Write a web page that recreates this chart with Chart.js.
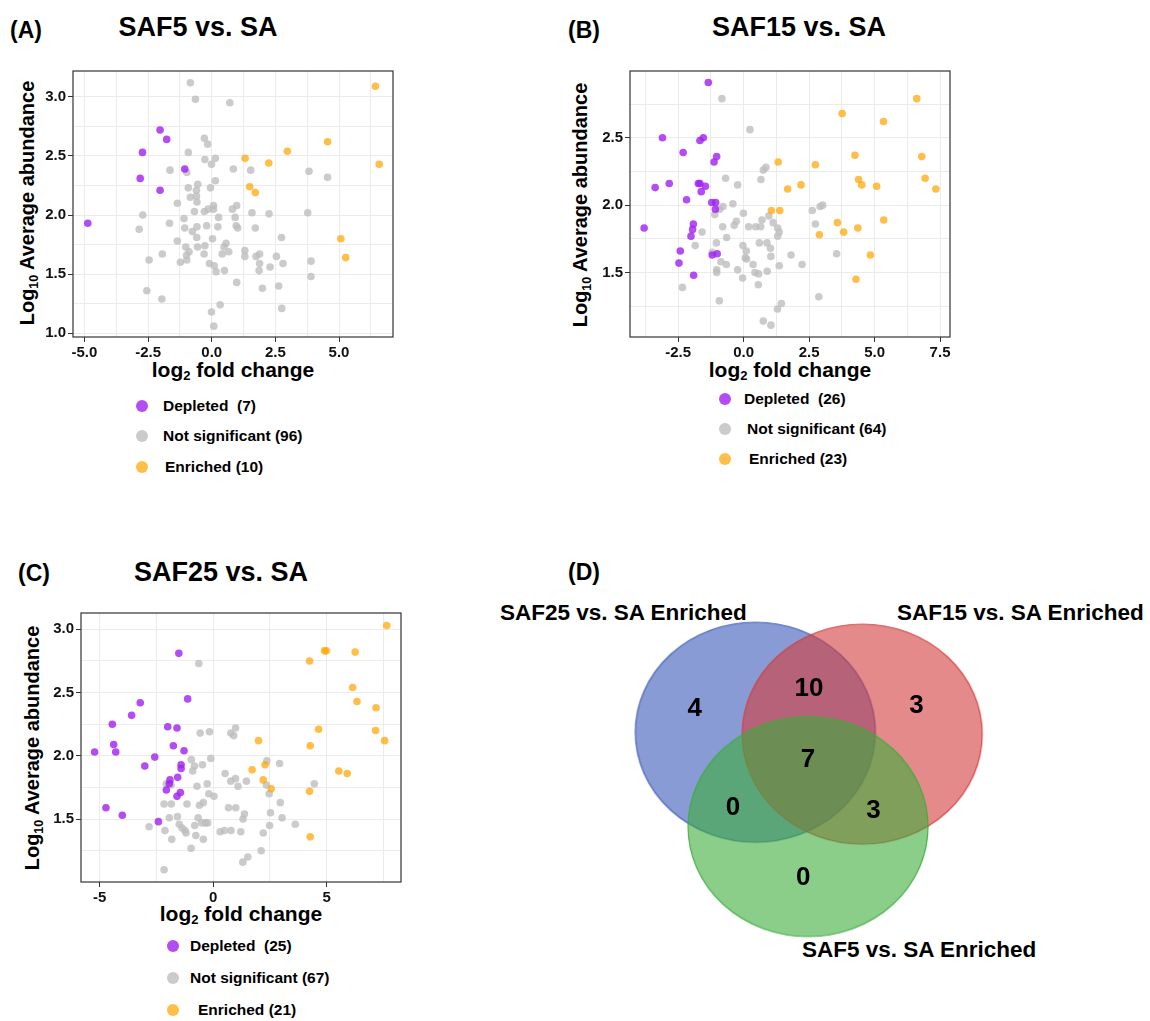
<!DOCTYPE html>
<html>
<head>
<meta charset="utf-8">
<script src="https://cdn.jsdelivr.net/npm/chart.js@4"></script>
<style>
  body { margin: 0; background: #fff; width: 1150px; height: 1021px; position: relative; overflow: hidden;
         font-family: 'Liberation Sans', Arial, sans-serif; color: #000; }
  canvas { position: absolute; }
  .t { position: absolute; font-weight: bold; white-space: nowrap; line-height: 1; }
  .l { transform: translateY(-50%); }
  .c { transform: translate(-50%, -50%); }
  .v { transform: translate(-50%, -50%) rotate(-90deg); }
  sub { font-size: 0.62em; vertical-align: -0.3em; line-height: 0; }
  .dot { position: absolute; width: 12px; height: 12px; border-radius: 50%; transform: translate(-50%, -50%); }
</style>
</head>
<body>

<!-- panel letters and titles -->
<div class="t l" style="left:10px;top:30px;font-size:23px">(A)</div>
<div class="t c" style="left:198px;top:27px;font-size:27px">SAF5 vs. SA</div>
<div class="t l" style="left:568px;top:30px;font-size:23px">(B)</div>
<div class="t c" style="left:799px;top:27px;font-size:27px">SAF15 vs. SA</div>
<div class="t l" style="left:18px;top:573px;font-size:23px">(C)</div>
<div class="t c" style="left:221px;top:572px;font-size:27px">SAF25 vs. SA</div>
<div class="t l" style="left:568px;top:572px;font-size:23px">(D)</div>

<!-- axis titles -->
<div class="t v" style="left:27px;top:203px;font-size:20px">Log<sub>10</sub> Average abundance</div>
<div class="t c" style="left:233px;top:369px;font-size:21px">log<sub>2</sub> fold change</div>
<div class="t v" style="left:580px;top:205px;font-size:20px">Log<sub>10</sub> Average abundance</div>
<div class="t c" style="left:790px;top:369px;font-size:21px">log<sub>2</sub> fold change</div>
<div class="t v" style="left:32px;top:748px;font-size:20px">Log<sub>10</sub> Average abundance</div>
<div class="t c" style="left:241px;top:913px;font-size:21px">log<sub>2</sub> fold change</div>

<!-- legends -->
<div id="legends"></div>

<!-- venn set names -->
<div class="t l" style="left:500px;top:613px;font-size:22.5px">SAF25 vs. SA Enriched</div>
<div class="t l" style="left:897px;top:613px;font-size:22.5px">SAF15 vs. SA Enriched</div>
<div class="t l" style="left:802px;top:950px;font-size:22.5px">SAF5 vs. SA Enriched</div>

<canvas id="volA" width="390" height="300" style="left:30px;top:60px"></canvas>
<canvas id="volB" width="380" height="300" style="left:590px;top:60px"></canvas>
<canvas id="volC" width="390" height="310" style="left:40px;top:600px"></canvas>
<canvas id="venn" width="420" height="370" style="left:600px;top:590px"></canvas>

<script>
// ---- data: [log2 fold change, log10 average abundance] ----
const aDepleted = [[-2.03,2.72],[-1.77,2.64],[-2.72,2.53],[-2.81,2.31],[-2.03,2.21],[-1.06,2.39],[-4.87,1.93]];
const aEnriched = [[6.43,3.09],[4.55,2.62],[6.58,2.43],[1.31,2.48],[2.24,2.44],[2.97,2.54],[1.49,2.24],[1.71,2.19],[5.07,1.80],[5.26,1.64]];
const aNotSig = [[-0.84,3.12],[-0.64,2.98],[0.71,2.95],[-0.29,2.65],[-0.16,2.60],[-0.92,2.53],[-0.27,2.47],[0.14,2.48],
  [-0.01,2.43],[-1.64,2.38],[-0.98,2.36],[0.85,2.39],[1.53,2.38],[3.82,2.37],[4.55,2.32],[-0.55,2.26],[-0.92,2.23],
  [-0.60,2.21],[0.14,2.29],[-0.05,2.23],[-0.84,2.15],[-0.60,2.16],[-0.58,2.11],[-1.35,2.10],[-0.68,2.03],[-0.29,2.03],
  [-0.14,2.05],[0.07,2.08],[0.07,2.05],[0.81,2.05],[0.98,2.08],[0.27,1.98],[0.92,1.98],[1.58,2.02],[2.25,2.01],[3.77,2.02],
  [-2.71,2.00],[-2.85,1.88],[-1.66,1.93],[-1.09,1.97],[-1.06,1.89],[-0.58,1.90],[-0.76,1.86],[-0.59,1.81],[-0.20,1.91],
  [0.24,1.90],[0.96,1.91],[1.02,1.89],[1.71,1.89],[2.74,1.81],[0.03,1.80],[-1.35,1.78],[-1.02,1.73],[-0.56,1.73],
  [-0.27,1.74],[0.56,1.76],[0.48,1.73],[0.67,1.69],[0.41,1.67],[1.30,1.70],[1.30,1.65],[-0.89,1.69],[-0.99,1.66],
  [-0.98,1.62],[-0.30,1.67],[-1.94,1.67],[-2.46,1.62],[-1.23,1.60],[1.74,1.65],[1.88,1.67],[2.54,1.65],[3.90,1.61],
  [1.88,1.59],[2.80,1.59],[2.29,1.56],[1.86,1.53],[-0.09,1.59],[0.10,1.57],[0.17,1.52],[0.50,1.53],[0.98,1.43],
  [3.90,1.48],[2.63,1.40],[1.99,1.38],[-2.55,1.36],[-1.96,1.29],[0.33,1.24],[-0.01,1.18],[2.75,1.21],[0.08,1.06]];

const bDepleted = [[-1.35,2.91],[-3.10,2.50],[-1.54,2.50],[-1.67,2.48],[-2.31,2.39],[-1.03,2.36],[-1.13,2.32],
  [-3.38,2.13],[-2.84,2.16],[-1.73,2.16],[-1.67,2.16],[-1.46,2.14],[-1.62,2.10],[-2.18,2.04],[-1.22,2.02],[-1.07,2.02],
  [-1.08,1.97],[-3.80,1.83],[-1.92,1.86],[-1.95,1.82],[-2.01,1.77],[-2.42,1.66],[-2.47,1.57],[-1.20,1.63],[-1.01,1.64],[-1.91,1.48]];
const bEnriched = [[6.61,2.79],[3.76,2.68],[5.34,2.62],[4.25,2.37],[6.80,2.36],[6.93,2.20],[7.34,2.12],[1.32,2.32],
  [2.74,2.30],[1.68,2.12],[2.19,2.15],[4.39,2.19],[4.51,2.15],[5.08,2.14],[1.06,1.96],[1.38,1.96],[3.58,1.87],
  [3.82,1.80],[2.89,1.78],[4.36,1.83],[5.35,1.89],[4.84,1.63],[4.29,1.45]];
const bNotSig = [[-0.83,2.79],[0.24,2.56],[0.75,2.26],[0.85,2.28],[0.66,2.19],[-0.69,2.20],[-0.23,2.15],[-0.41,2.01],
  [-0.79,1.99],[-0.92,1.97],[-0.01,1.94],[-0.28,1.88],[-0.36,1.85],[-0.80,1.84],[-0.65,1.76],[-1.10,1.93],[-1.59,1.80],
  [-1.85,1.70],[-1.04,1.72],[0.19,1.84],[0.46,1.84],[0.65,1.84],[0.70,1.89],[0.96,1.92],[1.13,1.87],[1.30,1.83],
  [1.36,1.80],[1.30,1.77],[2.62,1.96],[2.92,1.99],[3.02,2.00],[2.74,1.86],[-0.03,1.70],[0.10,1.66],[0.06,1.61],
  [0.11,1.60],[0.60,1.72],[0.89,1.72],[1.02,1.68],[1.04,1.62],[-0.87,1.58],[-0.66,1.56],[-1.03,1.52],[-1.03,1.50],
  [-0.23,1.52],[-0.04,1.46],[0.36,1.56],[0.43,1.50],[0.57,1.49],[0.90,1.51],[1.36,1.55],[1.81,1.63],[2.23,1.56],
  [3.55,1.64],[0.56,1.41],[-2.34,1.39],[2.87,1.32],[-0.93,1.29],[1.29,1.23],[1.44,1.27],[0.75,1.14],[1.04,1.11],
  [-1.20,1.65]];

const cDepleted = [[-1.51,2.81],[-1.12,2.45],[-3.21,2.42],[-3.59,2.32],[-4.44,2.25],[-4.38,2.09],[-4.29,2.03],
  [-5.22,2.03],[-2.00,2.23],[-1.59,2.22],[-1.75,2.08],[-1.28,2.04],[-2.57,1.99],[-3.01,1.92],[-1.41,1.93],[-1.41,1.90],
  [-1.56,1.83],[-1.90,1.81],[-1.93,1.78],[-2.06,1.73],[-1.44,1.71],[-1.59,1.68],[-4.72,1.59],[-4.00,1.53],[-2.41,1.48]];
const cEnriched = [[7.65,3.03],[4.91,2.83],[4.99,2.83],[6.26,2.82],[4.25,2.75],[6.15,2.54],[6.34,2.43],[7.18,2.38],
  [4.65,2.21],[7.16,2.20],[7.56,2.12],[4.28,2.08],[2.00,2.12],[2.29,1.93],[1.72,1.89],[2.21,1.81],[2.56,1.74],
  [5.54,1.88],[5.91,1.86],[4.25,1.72],[4.28,1.36]];
const cNotSig = [[-0.63,2.73],[-0.57,2.18],[-0.16,2.19],[0.78,2.18],[0.99,2.22],[0.91,2.16],[-0.96,1.97],[-0.82,1.92],
  [-0.90,1.88],[-0.47,1.93],[-0.10,1.98],[0.53,1.86],[0.78,1.80],[0.99,1.82],[1.10,1.76],[1.47,1.80],[2.37,1.96],
  [2.93,1.94],[2.35,1.77],[2.47,1.70],[4.46,1.78],[-2.06,1.78],[-1.85,1.77],[-0.71,1.76],[-0.26,1.78],[-0.19,1.70],
  [0.04,1.68],[-2.16,1.62],[-1.84,1.62],[-1.15,1.62],[-0.60,1.61],[-0.43,1.63],[0.68,1.59],[1.00,1.59],[1.38,1.54],
  [2.96,1.63],[-1.93,1.51],[-1.57,1.52],[-0.66,1.51],[1.32,1.50],[2.53,1.55],[3.04,1.51],[3.62,1.46],[-2.82,1.44],
  [-2.12,1.41],[-1.49,1.46],[-1.37,1.43],[-1.24,1.41],[-1.19,1.39],[-0.81,1.45],[-0.50,1.47],[-0.34,1.47],[-0.24,1.47],
  [-0.76,1.37],[-0.43,1.34],[-1.82,1.34],[0.31,1.40],[0.50,1.41],[0.79,1.41],[1.22,1.40],[2.21,1.39],[2.49,1.45],
  [-0.97,1.27],[2.12,1.25],[1.53,1.20],[1.31,1.16],[-2.16,1.10]];

const legendLabels = ['Depleted  ', 'Not significant ', 'Enriched '];
const countsA = [7, 96, 10];
const countsB = [26, 64, 23];
const countsC = [25, 67, 21];

// venn: regions SAF25-only, SAF25&SAF15, SAF15-only, all three, SAF25&SAF5, SAF15&SAF5, SAF5-only
const vennCounts = [4, 10, 3, 7, 0, 3, 0];
const vennSetNames = ['SAF5 vs. SA Enriched', 'SAF15 vs. SA Enriched', 'SAF25 vs. SA Enriched'];

// ---- styles / layout ----
const PURPLE = 'rgba(160,32,240,0.8)';
const ORANGE = 'rgba(255,165,0,0.72)';
const GREY = 'rgba(190,190,190,0.8)';
const FONT = "'Liberation Sans', Arial, sans-serif";

// legend rows: [dotX, dotY, textX] for each row
const legendPos = {
  A: [[142, 406, 163], [142, 436, 163], [142, 467, 165]],
  B: [[725, 399, 744], [725, 429, 747], [725, 459, 749]],
  C: [[173, 946, 190], [173, 978, 190], [173, 1010, 198]]
};
const legendColors = [PURPLE, GREY, ORANGE];

function buildLegend(key, counts) {
  const box = document.getElementById('legends');
  legendPos[key].forEach((p, i) => {
    const d = document.createElement('div');
    d.className = 'dot';
    d.style.cssText += `left:${p[0]}px;top:${p[1]}px;background:${legendColors[i]}`;
    box.appendChild(d);
    const t = document.createElement('div');
    t.className = 't l';
    t.style.cssText += `left:${p[2]}px;top:${p[1]}px;font-size:15.5px;white-space:pre`;
    t.textContent = legendLabels[i] + '(' + counts[i] + ')';
    box.appendChild(t);
  });
}
buildLegend('A', countsA);
buildLegend('B', countsB);
buildLegend('C', countsC);

const boxFrame = {
  id: 'boxFrame',
  afterDatasetsDraw(chart) {
    const a = chart.chartArea, ctx = chart.ctx;
    ctx.save();
    ctx.strokeStyle = '#333';
    ctx.lineWidth = 1.2;
    ctx.strokeRect(a.left, a.top, a.right - a.left, a.bottom - a.top);
    ctx.restore();
  }
};

function near(v, m) { return Math.abs(v / m - Math.round(v / m)) < 1e-6; }

function axis(o) {
  return {
    type: 'linear', min: o.min, max: o.max,
    border: { display: false },
    grid: {
      color: '#ebebeb', lineWidth: 1, tickLength: 5,
      tickColor: c => near(c.tick.value, o.major) ? '#333' : 'rgba(0,0,0,0)'
    },
    ticks: {
      stepSize: o.step, includeBounds: false, autoSkip: false, maxRotation: 0, padding: 2,
      color: '#111', font: { family: FONT, size: 15, weight: 'bold' },
      callback: v => near(v, o.major) ? o.fmt(v) : ''
    },
    afterFit: s => { if (o.isX) s.height = o.fit; else s.width = o.fit; }
  };
}

const pts = arr => arr.map(p => ({ x: p[0], y: p[1] }));

function volcano(id, dep, ns, enr, xa, ya, pad) {
  new Chart(document.getElementById(id), {
    type: 'scatter',
    data: {
      datasets: [
        { data: pts(dep), backgroundColor: PURPLE },
        { data: pts(enr), backgroundColor: ORANGE },
        { data: pts(ns), backgroundColor: GREY }
      ]
    },
    options: {
      responsive: false, animation: false, events: [],
      layout: { padding: pad },
      elements: { point: { radius: 3.8, borderWidth: 0 } },
      plugins: { legend: { display: false }, tooltip: { enabled: false } },
      scales: { x: axis(xa), y: axis(ya) }
    },
    plugins: [boxFrame]
  });
}

const f1 = v => v.toFixed(1);
const f0 = v => String(Math.round(v));

volcano('volA', aDepleted, aNotSig, aEnriched,
  { min: -5.45, max: 7.12, step: 1.25, major: 2.5, fmt: f1, fit: 23, isX: true },
  { min: 0.968, max: 3.219, step: 0.25, major: 0.5, fmt: f1, fit: 43 },
  { top: 8, right: 27, left: 0, bottom: 0 });

volcano('volB', bDepleted, bNotSig, bEnriched,
  { min: -4.34, max: 7.88, step: 1.25, major: 2.5, fmt: f1, fit: 23, isX: true },
  { min: 1.022, max: 2.995, step: 0.25, major: 0.5, fmt: f1, fit: 40 },
  { top: 8, right: 20, left: 0, bottom: 0 });

volcano('volC', cDepleted, cNotSig, cEnriched,
  { min: -5.82, max: 8.28, step: 2.5, major: 5, fmt: f0, fit: 28, isX: true },
  { min: 1.003, max: 3.129, step: 0.25, major: 0.5, fmt: f1, fit: 41 },
  { top: 13, right: 29, left: 0, bottom: 0 });

// ---- venn ----
const vennCentres = { saf25: [154, 141], saf15: [263.5, 143], saf5: [208, 238] };
const vennSpots = [[92, 117], [209, 96], [319, 114], [208, 169], [131, 219], [275, 222], [203, 291]];

function ellipseImg(fill, stroke) {
  const c = document.createElement('canvas');
  c.width = 244; c.height = 224;
  const g = c.getContext('2d');
  g.beginPath();
  g.ellipse(122, 112, 120, 110, 0, 0, Math.PI * 2);
  g.fillStyle = fill; g.fill();
  g.lineWidth = 1.2; g.strokeStyle = stroke; g.stroke();
  return c;
}

const vennText = {
  id: 'vennText',
  afterDatasetsDraw(chart) {
    const ctx = chart.ctx, sx = chart.scales.x, sy = chart.scales.y;
    ctx.save();
    ctx.fillStyle = '#000';
    ctx.font = 'bold 26px ' + FONT;
    ctx.textAlign = 'center';
    ctx.textBaseline = 'middle';
    vennCounts.forEach((n, i) => {
      ctx.fillText(String(n), sx.getPixelForValue(vennSpots[i][0]), sy.getPixelForValue(vennSpots[i][1]));
    });
    ctx.restore();
  }
};

new Chart(document.getElementById('venn'), {
  type: 'scatter',
  data: {
    datasets: [
      { label: vennSetNames[0], data: [{ x: vennCentres.saf5[0], y: vennCentres.saf5[1] }],
        pointStyle: ellipseImg('rgba(60,173,60,0.6)', 'rgba(60,173,60,0.9)'), radius: 1, clip: false },
      { label: vennSetNames[1], data: [{ x: vennCentres.saf15[0], y: vennCentres.saf15[1] }],
        pointStyle: ellipseImg('rgba(212,60,60,0.6)', 'rgba(212,60,60,0.9)'), radius: 1, clip: false },
      { label: vennSetNames[2], data: [{ x: vennCentres.saf25[0], y: vennCentres.saf25[1] }],
        pointStyle: ellipseImg('rgba(58,88,185,0.6)', 'rgba(58,88,185,0.9)'), radius: 1, clip: false }
    ]
  },
  options: {
    responsive: false, animation: false, events: [],
    layout: { padding: 0 },
    plugins: { legend: { display: false }, tooltip: { enabled: false } },
    scales: {
      x: { display: false, min: 0, max: 420 },
      y: { display: false, min: 0, max: 370, reverse: true }
    }
  },
  plugins: [vennText]
});
</script>
</body>
</html>
